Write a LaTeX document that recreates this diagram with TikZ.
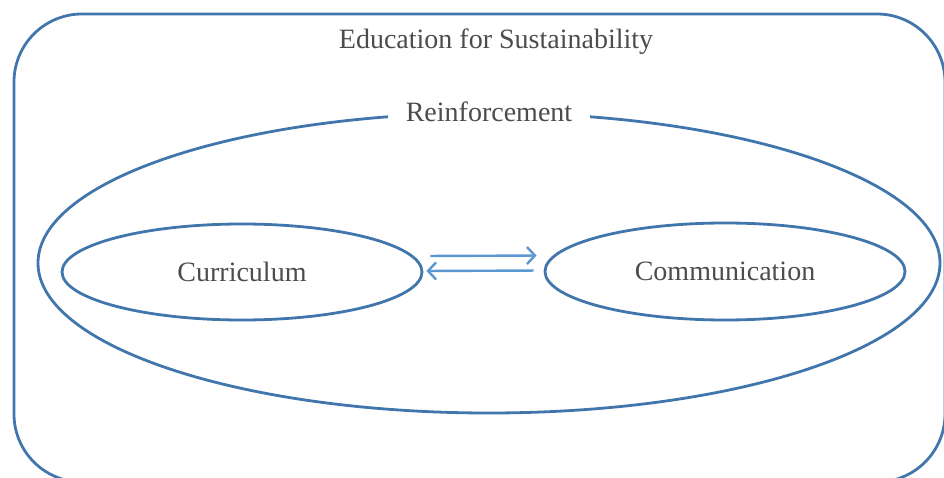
\documentclass[tikz,border=0pt]{standalone}
\usepackage{fontspec}
\setmainfont{Liberation Serif}
\usetikzlibrary{positioning,shapes.geometric,arrows.meta}
\definecolor{frameblue}{HTML}{4176AD}
\definecolor{arrowblue}{HTML}{5B97D0}
\tikzset{
  frame/.style={draw=frameblue,line width=2.8pt,rounded corners=68pt},
  oval/.style={ellipse,draw=frameblue,line width=2.8pt,inner sep=0pt,text=black!70,font=\fontsize{28}{32}\selectfont},
  titel/.style={text=black!70,font=\fontsize{28}{32}\selectfont},
  arr/.style={line width=2.4pt,draw=arrowblue,-{Straight Barb[length=8pt,width=17pt,line width=2.4pt]}}
}
\begin{document}
\begin{tikzpicture}[x=1pt,y=-1pt]
	\useasboundingbox (0,0) rectangle (944,478);
	\node[frame,minimum width=931pt,minimum height=468pt] (efs) at (479.5,248) {};
	\node[titel] (efstitle) at (496,42) {Education for Sustainability};

	\node[oval,minimum width=902pt,minimum height=300pt] (reinf) at (489,263) {};
	\node[titel,fill=white,inner xsep=18pt] (reinftitle) at (reinf.north) {Reinforcement};

	\node[oval,minimum width=360pt,minimum height=96pt] (curr) at (242,272) {Curriculum};
	\node[oval,minimum width=360pt,minimum height=97pt] (comm) at (725,271.5) {Communication};

	\draw[arr,shorten <=7pt,shorten >=7pt] ([yshift=16pt]curr.east) -- ([yshift=16pt]comm.west);
	\draw[arr,shorten <=10pt,shorten >=3pt] ([yshift=1pt]comm.west) -- ([yshift=1pt]curr.east);
\end{tikzpicture}
\end{document}
